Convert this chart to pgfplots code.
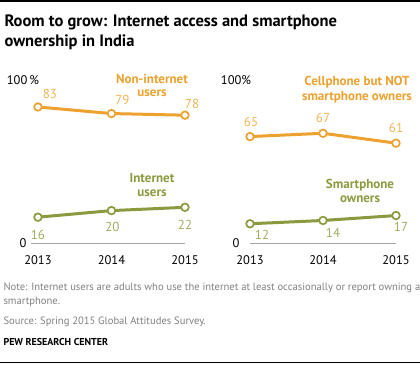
\documentclass[border=0pt]{standalone}
\usepackage{pgfplots}
\pgfplotsset{compat=1.18}
\usepackage{fontspec}
\setmainfont{PT Sans}
\definecolor{porange}{HTML}{EDA12F}
\definecolor{plorange}{HTML}{F1B455}
\definecolor{pgreen}{HTML}{8B9A3E}
\definecolor{plgreen}{HTML}{A2AA62}
\definecolor{pgray}{HTML}{808080}
\begin{document}
\begin{tikzpicture}[x=1pt,y=-1pt]
\path[use as bounding box] (0,0) rectangle (420,370);
\draw[black, line width=1.5pt] (0,1) -- (420,1);
\draw[black, line width=1pt] (0,362) -- (420,362);
% title
\node[anchor=west, font=\fontsize{16.5}{18}\selectfont\bfseries] at (1,22) {Room to grow: Internet access and smartphone};
\node[anchor=west, font=\fontsize{16.5}{18}\selectfont\bfseries] at (1,42) {ownership in India};
\pgfplotsset{
  pewstyle/.style={
    scale only axis, clip=false,
    ymin=0, ymax=100,
    axis x line=bottom, axis y line=none,
    axis line style={draw=gray!70, line width=0.7pt, -},
    xtick={2013,2014,2015},
    xticklabels={2013,2014,2015},
    major tick length=0pt,
    xticklabel style={font=\fontsize{12.5}{14}\selectfont, text=black, yshift=-8.5pt},
    ytick=\empty,
  },
  orangeline/.style={color=porange, line width=3pt, mark=*, mark size=3.8pt, mark options={fill=white, draw=porange, line width=1.7pt}},
  greenline/.style={color=pgreen, line width=3pt, mark=*, mark size=3.8pt, mark options={fill=white, draw=pgreen, line width=1.7pt}},
}
% left panel
\begin{axis}[pewstyle, at={(30.6pt,-243.5pt)}, anchor=south west,
  width=154.4pt, height=164.5pt, xmin=2012.9, xmax=2015]
\addplot[orangeline] coordinates {(2013,83) (2014,79) (2015,78)};
\addplot[greenline] coordinates {(2013,16) (2014,20) (2015,22)};
\begin{scope}[font=\fontsize{13}{14}\selectfont]
\node[text=plorange] at (axis cs:2013,83) [xshift=12pt, yshift=13pt] {83};
\node[text=plorange] at (axis cs:2014,79) [xshift=11pt, yshift=13.5pt] {79};
\node[text=plorange] at (axis cs:2015,78) [xshift=7pt, yshift=11pt] {78};
\node[text=plgreen] at (axis cs:2013,16) [xshift=0pt, yshift=-18pt] {16};
\node[text=plgreen] at (axis cs:2014,20) [xshift=1pt, yshift=-16pt] {20};
\node[text=plgreen] at (axis cs:2015,22) [xshift=0pt, yshift=-18pt] {22};
\end{scope}
\end{axis}
% right panel
\begin{axis}[pewstyle, at={(250pt,-243.5pt)}, anchor=south west,
  width=146pt, height=164.5pt, xmin=2013, xmax=2015]
\addplot[orangeline] coordinates {(2013,65) (2014,67) (2015,61)};
\addplot[greenline] coordinates {(2013,12) (2014,14) (2015,17)};
\begin{scope}[font=\fontsize{13}{14}\selectfont]
\node[text=plorange] at (axis cs:2013,65) [xshift=1pt, yshift=14.5pt] {65};
\node[text=plorange] at (axis cs:2014,67) [xshift=0pt, yshift=15.5pt] {67};
\node[text=plorange] at (axis cs:2015,61) [xshift=0pt, yshift=15pt] {61};
\node[text=plgreen] at (axis cs:2013,12) [xshift=12pt, yshift=-11pt] {12};
\node[text=plgreen] at (axis cs:2014,14) [xshift=10pt, yshift=-12.5pt] {14};
\node[text=plgreen] at (axis cs:2015,17) [xshift=5pt, yshift=-11.5pt] {17};
\end{scope}
\end{axis}
% axis labels 100% and 0
\node[font=\fontsize{12.5}{14}\selectfont] at (23,80) {100\,\%};
\node[font=\fontsize{12.5}{14}\selectfont] at (23,243) {0};
\node[font=\fontsize{12.5}{14}\selectfont] at (236,80) {100\%};
\node[font=\fontsize{12.5}{14}\selectfont] at (236,243) {0};
% series labels
\begin{scope}[font=\fontsize{13}{15}\selectfont\bfseries]
\node[text=porange] at (152,79) {Non-internet};
\node[text=porange] at (152,93.5) {users};
\node[text=pgreen] at (152,178) {Internet};
\node[text=pgreen] at (152,193) {users};
\node[text=porange] at (357,82) {Cellphone but NOT};
\node[text=porange] at (357,97) {smartphone owners};
\node[text=pgreen] at (360,185) {Smartphone};
\node[text=pgreen] at (360,199.5) {owners};
\end{scope}
% notes
\begin{scope}[font=\fontsize{10.6}{12}\selectfont, text=pgray]
\node[anchor=west] at (0,288) {Note: Internet users are adults who use the internet at least occasionally or report owning a};
\node[anchor=west] at (0,302) {smartphone.};
\node[anchor=west] at (0,322) {Source: Spring 2015 Global Attitudes Survey.};
\end{scope}
\node[anchor=west, font=\fontsize{10}{12}\selectfont\bfseries] at (0,342) {PEW RESEARCH CENTER};
\end{tikzpicture}
\end{document}
